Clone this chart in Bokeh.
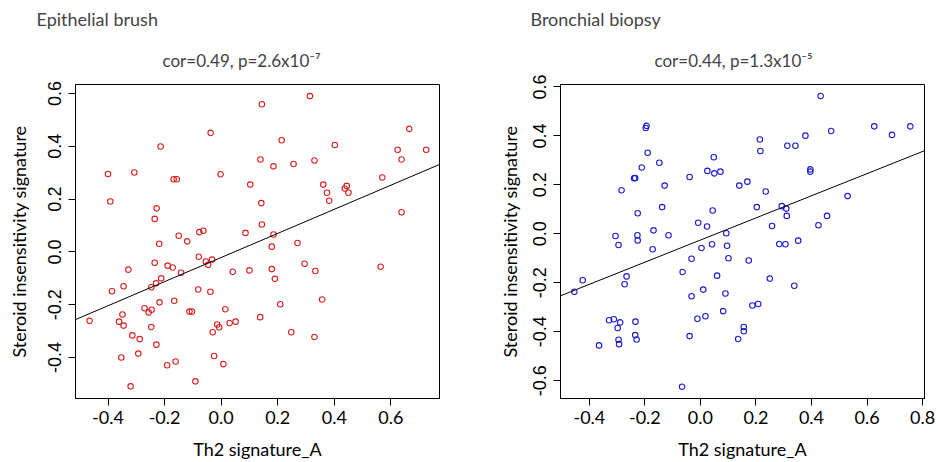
import numpy as np
from bokeh.plotting import figure
from bokeh.layouts import row
from bokeh.models import Range1d, FixedTicker, NumeralTickFormatter, Title, Slope
from bokeh.embed import file_html
from bokeh.resources import INLINE

# ---------------- data ----------------
epi_x = [-0.400, -0.392, -0.307, -0.214, -0.228, -0.235, -0.219, -0.168, -0.157, -0.150,
         -0.120, -0.077, -0.063, -0.037, -0.002, 0.144, 0.314, 0.214, 0.402, 0.139,
         0.185, 0.256, 0.330, 0.665, 0.624, 0.725, 0.638, 0.103, 0.361, 0.374,
         0.382, 0.437, 0.444, 0.450, 0.570, 0.142, 0.638, 0.144, 0.086, 0.185,
         0.179, 0.270, -0.079, -0.054, -0.046, -0.032, 0.041, -0.328, -0.235, -0.189,
         -0.171, -0.142, -0.212, -0.230, -0.247, -0.345, -0.386, -0.081, -0.038, -0.218,
         -0.166, -0.271, -0.246, -0.256, -0.349, -0.361, -0.345, -0.465, -0.112, -0.103,
         0.015, -0.247, -0.314, -0.288, -0.229, -0.293, -0.353, -0.191, -0.161, -0.091,
         -0.320, -0.025, 0.008, -0.014, -0.007, -0.030, 0.030, 0.051, 0.100, 0.179,
         0.190, 0.295, 0.333, 0.564, 0.209, 0.357, 0.138, 0.248, 0.330]
epi_y = [0.295, 0.191, 0.301, 0.399, 0.165, 0.125, 0.031, 0.275, 0.275, 0.061,
         0.040, 0.075, 0.080, 0.451, 0.294, 0.559, 0.590, 0.423, 0.405, 0.350,
         0.324, 0.333, 0.346, 0.466, 0.387, 0.387, 0.350, 0.255, 0.255, 0.224,
         0.194, 0.240, 0.250, 0.224, 0.282, 0.185, 0.150, 0.104, 0.072, 0.066,
         0.020, 0.034, -0.018, -0.036, -0.049, -0.029, -0.075, -0.067, -0.041, -0.052,
         -0.059, -0.079, -0.100, -0.119, -0.134, -0.130, -0.149, -0.142, -0.151, -0.191,
         -0.185, -0.213, -0.219, -0.229, -0.237, -0.264, -0.279, -0.261, -0.226, -0.226,
         -0.217, -0.284, -0.316, -0.330, -0.351, -0.385, -0.400, -0.429, -0.415, -0.490,
         -0.509, -0.394, -0.425, -0.275, -0.285, -0.304, -0.269, -0.264, -0.070, -0.065,
         -0.102, -0.045, -0.072, -0.056, -0.198, -0.180, -0.247, -0.304, -0.322]

bio_x = [-0.194, -0.197, -0.190, -0.211, -0.239, -0.235, -0.148, -0.284, -0.129, -0.039,
         0.048, 0.025, 0.050, 0.072, -0.226, -0.138, 0.044, -0.008, 0.024, -0.169,
         -0.115, -0.306, -0.295, -0.227, -0.226, -0.172, 0.004, 0.042, 0.433, 0.626,
         0.756, 0.690, 0.471, 0.378, 0.214, 0.216, 0.313, 0.342, 0.396, 0.396,
         0.140, 0.169, 0.235, 0.530, 0.203, 0.293, 0.309, 0.311, 0.456, 0.258,
         0.425, 0.093, 0.096, 0.284, 0.306, 0.352, -0.032, -0.064, 0.060, -0.424,
         -0.454, -0.266, -0.273, -0.032, 0.010, -0.329, -0.312, -0.289, -0.298, -0.234,
         -0.235, -0.230, -0.295, -0.293, -0.365, -0.011, 0.018, -0.039, -0.066, 0.101,
         0.174, 0.250, 0.338, 0.090, 0.082, 0.187, 0.208, 0.156, 0.156, 0.136]
bio_y = [0.441, 0.432, 0.331, 0.271, 0.227, 0.228, 0.290, 0.178, 0.197, 0.232,
         0.313, 0.257, 0.247, 0.254, 0.084, 0.109, 0.095, 0.045, 0.030, 0.014,
         -0.006, -0.009, -0.046, -0.006, -0.027, -0.063, -0.058, -0.043, 0.563, 0.439,
         0.439, 0.404, 0.420, 0.401, 0.385, 0.338, 0.360, 0.360, 0.263, 0.254,
         0.197, 0.213, 0.173, 0.154, 0.109, 0.113, 0.103, 0.073, 0.073, 0.032,
         0.035, 0.002, -0.049, -0.042, -0.043, -0.028, -0.102, -0.156, -0.171, -0.190,
         -0.237, -0.174, -0.206, -0.255, -0.228, -0.353, -0.349, -0.362, -0.385, -0.359,
         -0.414, -0.432, -0.433, -0.451, -0.456, -0.347, -0.337, -0.418, -0.625, -0.100,
         -0.109, -0.183, -0.212, -0.244, -0.316, -0.293, -0.287, -0.381, -0.398, -0.430]

epi_xticks = [-0.4, -0.2, 0.0, 0.2, 0.4, 0.6]
epi_yticks = [-0.4, -0.2, 0.0, 0.2, 0.4, 0.6]
bio_xticks = [-0.4, -0.2, 0.0, 0.2, 0.4, 0.6, 0.8]
bio_yticks = [-0.6, -0.4, -0.2, 0.0, 0.2, 0.4, 0.6]

headers = ["Epithelial brush", "Bronchial biopsy"]
stats = ["cor=0.49, p=2.6x10\u207b\u2077", "cor=0.44, p=1.3x10\u207b\u2075"]
x_label = "Th2 signature_A"
y_label = "Steroid insensitivity signature"

TXT_FONT = "Lato"


def panel(xs, ys, color, xr, yr, xticks, yticks, header, stat,
          width, border_left, border_right, header_offset, stat_offset, ylab_standoff):
    p = figure(width=width, height=462,
               x_range=Range1d(*xr), y_range=Range1d(*yr),
               output_backend="svg", toolbar_location=None,
               min_border_left=border_left, min_border_right=border_right,
               min_border_top=81, min_border_bottom=64)
    p.background_fill_color = "white"
    p.border_fill_color = "white"
    p.outline_line_color = "black"
    p.outline_line_width = 1
    p.grid.visible = False

    p.scatter(xs, ys, marker="circle", size=5.5, fill_color=None,
              line_color=color, line_width=1.1)
    m, b = np.polyfit(np.array(xs), np.array(ys), 1)
    p.add_layout(Slope(gradient=m, y_intercept=b, line_color="black", line_width=1))

    for ax in (p.xaxis[0], p.yaxis[0]):
        ax.axis_line_color = "black"
        ax.major_tick_line_color = "black"
        ax.major_tick_out = 7
        ax.major_tick_in = 0
        ax.minor_tick_line_color = None
        ax.formatter = NumeralTickFormatter(format="0.0")
        ax.axis_label_text_font = TXT_FONT
        ax.axis_label_text_font_style = "normal"
        ax.axis_label_text_font_size = "18px"
        ax.axis_label_text_color = "black"
        ax.major_label_text_color = "black"

    xa = p.xaxis[0]
    xa.ticker = FixedTicker(ticks=xticks)
    xa.axis_label = x_label
    xa.major_label_text_font = TXT_FONT
    xa.major_label_text_font_size = "18px"
    xa.major_label_standoff = 5
    xa.axis_label_standoff = 11

    ya = p.yaxis[0]
    ya.ticker = FixedTicker(ticks=yticks)
    ya.axis_label = y_label
    ya.major_label_text_font = "Liberation Sans"
    ya.major_label_text_font_size = "18px"
    ya.major_label_orientation = "vertical"
    ya.major_label_standoff = 7
    ya.axis_label_standoff = ylab_standoff

    # header (outermost) is the figure's own title; the statistic sits closer to the frame
    p.title.text = header
    p.title.align = "left"
    p.title.offset = header_offset
    p.title.text_font = TXT_FONT
    p.title.text_font_style = "normal"
    p.title.text_font_size = "18px"
    p.title.standoff = 10

    p.add_layout(Title(text=stat, align="left", offset=stat_offset,
                       text_font=TXT_FONT, text_font_style="normal",
                       text_font_size="17px", standoff=27), "above")
    return p


p1 = panel(epi_x, epi_y, "#d81e1e", (-0.515, 0.772), (-0.555, 0.634),
           epi_xticks, epi_yticks, headers[0], stats[0],
           469, 75, 30, -39, 87, 16)
p2 = panel(bio_x, bio_y, "#1a1acd", (-0.504, 0.807), (-0.673, 0.610),
           bio_xticks, bio_yticks, headers[1], stats[1],
           469, 91, 14, -30, 94, 10)

layout = row(p1, p2)
open("out.html", "w").write(file_html(layout, INLINE))
